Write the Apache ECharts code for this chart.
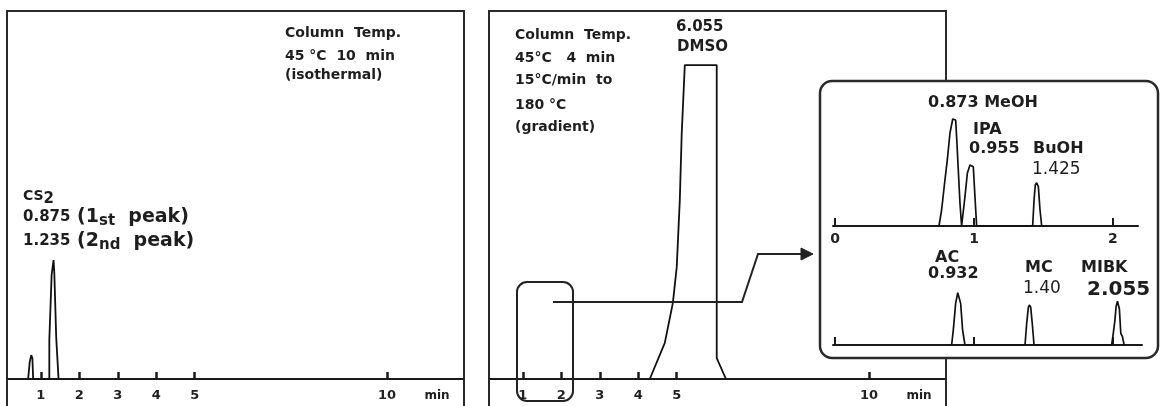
<!DOCTYPE html>
<html><head><meta charset="utf-8">
<script src="https://cdn.jsdelivr.net/npm/echarts@6/dist/echarts.min.js"></script>
<style>html,body{margin:0;padding:0;background:#fff}#c{width:1160px;height:406px}</style>
</head><body><div id="c"></div>
<script>
// ---- data (time in min, relative detector signal) ----
const mainTicks = [1, 2, 3, 4, 5, 10];
const insetTicks = [0, 1, 2];
// left chromatogram: CS2 (isothermal)
const cs2Trace = [[0.67,0],[0.71,4.6],[0.75,6.5],[0.78,5.7],[0.80,0],[1.22,0],[1.22,10.6],[1.27,11.1],[1.28,28.3],[1.32,28.8],[1.33,32.3],[1.35,28.8],[1.39,28.3],[1.40,11.1],[1.45,10.6],[1.46,0]];
// right chromatogram: DMSO (gradient)
const dmsoTrace = [[4.30,0],[4.69,9.8],[4.90,20.7],[5.00,30.4],[5.08,48.6],[5.13,66.8],[5.21,85.3],[6.04,85.3],[6.04,5.7],[6.28,0]];
// inset, upper trace
const meohPeak = [[0.748,0],[0.767,12.3],[0.791,35.4],[0.808,50.8],[0.827,71.5],[0.847,82.3],[0.851,83.1],[0.868,81.5],[0.875,68.5],[0.887,43.1],[0.899,17.7],[0.911,0]];
const ipaPeak = [[0.918,0],[0.935,22.5],[0.952,40.5],[0.971,46.9],[0.983,47.4],[0.995,45.6],[1.007,22.5],[1.019,0]];
const buohPeak = [[1.422,0],[1.432,20],[1.441,31.5],[1.451,33.3],[1.463,30.3],[1.475,12.3],[1.487,0]];
// inset, lower trace
const acPeak = [[0.839,0],[0.851,11.5],[0.868,32],[0.883,40.2],[0.892,39.7],[0.904,32],[0.918,11.5],[0.935,0]];
const mcPeak = [[1.367,0],[1.379,16.7],[1.391,29],[1.398,30.8],[1.408,29],[1.419,16.7],[1.432,0]];
const mibkPeak = [[1.990,0],[2.002,9],[2.014,19.2],[2.022,29.5],[2.032,33.6],[2.046,27.7],[2.056,9],[2.068,6.4],[2.080,0]];

const INK = '#1a1a1a';
const FONT = 'DejaVu Sans';

function mainX(grid) {
  return {
    gridIndex: grid, type: 'value', min: 0.12, max: 12,
    axisLine: { onZero: false, lineStyle: { color: INK, width: 2 } },
    axisTick: { inside: true, length: 7, customValues: mainTicks, lineStyle: { color: INK, width: 2.5 } },
    axisLabel: { customValues: mainTicks, margin: 10, fontSize: 13, fontWeight: 'bold', color: '#222', fontFamily: FONT },
    splitLine: { show: false }
  };
}
function insetX(grid, max, labels) {
  return {
    gridIndex: grid, type: 'value', min: -0.0144, max: max, z: 4,
    axisLine: { onZero: false, lineStyle: { color: INK, width: 2 } },
    axisTick: { inside: true, length: 8, customValues: insetTicks, lineStyle: { color: INK, width: 2 } },
    axisLabel: { show: labels, customValues: insetTicks, margin: 6, fontSize: 14, fontWeight: 'bold', color: '#222', fontFamily: FONT },
    splitLine: { show: false }
  };
}
function yAx(grid) {
  return { gridIndex: grid, type: 'value', min: 0, max: 100, show: false, splitLine: { show: false } };
}
function line(x, data, z, w) {
  return { type: 'line', xAxisIndex: x, yAxisIndex: x, data: data, showSymbol: false, z: z,
    lineStyle: { color: '#111', width: w }, silent: true };
}
function txt(x, y, text, size, opts) {
  opts = opts || {};
  return { type: 'text', x: x, y: y, z: 10, style: Object.assign({
    text: text, fill: '#1e1e1e', font: (opts.weight || 'bold') + ' ' + size + 'px "' + FONT + '"',
    textAlign: opts.align || 'left', textVerticalAlign: 'middle' }, opts.style || {}) };
}
function rtxt(x, y, text, rich) {
  return { type: 'text', x: x, y: y, z: 10, style: { text: text, rich: rich, fill: '#1e1e1e',
    textAlign: 'left', textVerticalAlign: 'middle', fontFamily: FONT } };
}
function vline(x, y1, y2) {
  return { type: 'line', z: 1, shape: { x1: x, y1: y1, x2: x, y2: y2 }, style: { stroke: '#2a2a2a', lineWidth: 2 } };
}
const peakRich = {
  n: { fontSize: 15, fontWeight: 'bold', fontFamily: FONT, color: '#333', lineHeight: 24, verticalAlign: 'middle' },
  b: { fontSize: 19, fontWeight: 'bold', fontFamily: FONT, color: '#111', lineHeight: 24, verticalAlign: 'middle' },
  s: { fontSize: 15, fontWeight: 'bold', fontFamily: FONT, color: '#111', lineHeight: 17, verticalAlign: 'bottom' }
};

const chart = echarts.init(document.getElementById('c'), null, { renderer: 'canvas' });
chart.setOption({
  animation: false,
  backgroundColor: '#fff',
  grid: [
    { left: 7, top: 11, width: 457, height: 368, show: true, borderColor: '#2a2a2a', borderWidth: 2, backgroundColor: 'transparent', outerBoundsMode: 'none', containLabel: false },
    { left: 489, top: 11, width: 457, height: 368, show: true, borderColor: '#2a2a2a', borderWidth: 2, backgroundColor: 'transparent', outerBoundsMode: 'none', containLabel: false },
    { left: 833, top: 96, width: 305, height: 130, outerBoundsMode: 'none', containLabel: false },
    { left: 833, top: 215, width: 309, height: 130, outerBoundsMode: 'none', containLabel: false }
  ],
  xAxis: [ mainX(0), mainX(1), insetX(2, 2.1799, true), insetX(3, 2.2086, false) ],
  yAxis: [ yAx(0), yAx(1), yAx(2), yAx(3) ],
  series: [
    line(0, cs2Trace, 2, 1.8),
    line(1, dmsoTrace, 2, 1.8),
    line(2, meohPeak.concat(ipaPeak, buohPeak), 5, 1.7),
    line(3, acPeak.concat(mcPeak, mibkPeak), 5, 1.7)
  ],
  graphic: [
    // panel side frames continuing below the baselines
    vline(7, 379, 406), vline(464, 379, 406), vline(489, 379, 406), vline(946, 379, 406),
    // inset panel
    { type: 'rect', z: 3, shape: { x: 820, y: 81, width: 338, height: 277, r: 12 },
      style: { fill: '#fff', stroke: '#2a2a2a', lineWidth: 2.5 } },
    // selection box and arrow
    { type: 'rect', z: 4, shape: { x: 517, y: 282, width: 56, height: 119, r: 10 },
      style: { fill: null, stroke: '#222', lineWidth: 2 } },
    { type: 'polyline', z: 4, shape: { points: [[553,302],[742,302],[758,254],[805,254]] },
      style: { fill: null, stroke: '#222', lineWidth: 2 } },
    { type: 'polygon', z: 4, shape: { points: [[801,248],[813,254],[801,260]] },
      style: { fill: '#222', stroke: '#222', lineWidth: 1 } },
    // left panel annotations
    txt(285, 33, 'Column  Temp.', 14),
    txt(285, 56, '45 °C  10  min', 14),
    txt(285, 75, '(isothermal)', 14),
    rtxt(23, 196, '{c|CS}{d|2}', {
      c: { fontSize: 14, fontWeight: 'bold', fontFamily: FONT, color: '#1e1e1e', lineHeight: 22, verticalAlign: 'middle' },
      d: { fontSize: 15, fontWeight: 'bold', fontFamily: FONT, color: '#1e1e1e', lineHeight: 12, verticalAlign: 'bottom' } }),
    rtxt(23, 217, '{n|0.875}{b| (1}{s|st}{b|  peak)}', peakRich),
    rtxt(23, 241, '{n|1.235}{b| (2}{s|nd}{b|  peak)}', peakRich),
    txt(437, 396, 'min', 12, { align: 'center' }),
    // right panel annotations
    txt(515, 35, 'Column  Temp.', 14),
    txt(515, 58, '45°C   4  min', 14),
    txt(515, 80, '15°C/min  to', 14),
    txt(515, 105, '180 °C', 14),
    txt(515, 127, '(gradient)', 14),
    txt(676, 27, '6.055', 15),
    txt(677, 47, 'DMSO', 15),
    txt(919, 396, 'min', 12, { align: 'center' }),
    // inset annotations
    txt(928, 103, '0.873 MeOH', 16),
    txt(973, 130, 'IPA', 16),
    txt(969, 149, '0.955', 16),
    txt(1033, 149, 'BuOH', 16),
    txt(1032, 170, '1.425', 17, { weight: 'normal' }),
    txt(935, 258, 'AC', 16),
    txt(928, 274, '0.932', 16),
    txt(1025, 268, 'MC', 16),
    txt(1023, 289, '1.40', 17, { weight: 'normal' }),
    txt(1081, 268, 'MIBK', 16),
    txt(1087, 290, '2.055', 20)
  ]
});
</script></body></html>
